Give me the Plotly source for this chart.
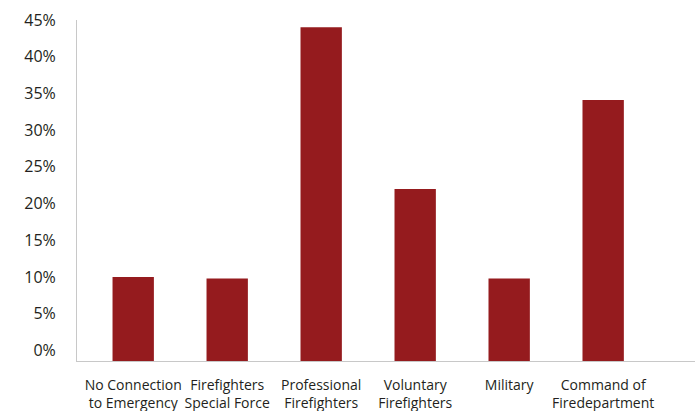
import plotly.graph_objects as go

categories = [
    "No Connection<br>to Emergency",
    "Firefighters<br>Special Force",
    "Professional<br>Firefighters",
    "Voluntary<br>Firefighters",
    "Military",
    "Command of<br>Firedepartment",
]
values = [0.10, 0.098, 0.44, 0.22, 0.098, 0.341]
y_ticks = [0, 0.05, 0.10, 0.15, 0.20, 0.25, 0.30, 0.35, 0.40, 0.45]

Y_MIN = -0.0143
Y_MAX = 0.45

fig = go.Figure(
    go.Bar(
        x=list(range(len(categories))),
        y=[v - Y_MIN for v in values],
        base=Y_MIN,
        marker=dict(color="#951b1e", line=dict(width=0)),
        hoverinfo="skip",
    )
)

fig.update_layout(
    width=695,
    height=411,
    margin=dict(l=77, r=0, t=20, b=50),
    paper_bgcolor="white",
    plot_bgcolor="white",
    bargap=0.56,
    showlegend=False,
    font=dict(family="Open Sans", color="#231f20"),
)

fig.update_xaxes(
    tickmode="array",
    tickvals=list(range(len(categories))),
    ticktext=categories,
    range=[-0.598, 5.977],
    showgrid=False,
    zeroline=False,
    showline=True,
    linecolor="#c8c8c8",
    linewidth=1,
    ticks="",
    tickfont=dict(size=14, family="Open Sans", color="#231f20"),
    ticklabelstandoff=11,
)

fig.update_yaxes(
    range=[Y_MIN, Y_MAX],
    tickmode="array",
    tickvals=y_ticks,
    tickformat=".0%",
    showgrid=False,
    zeroline=False,
    showline=True,
    linecolor="#c8c8c8",
    linewidth=1,
    ticks="",
    tickfont=dict(size=16, family="Open Sans", color="#231f20"),
    ticklabelstandoff=17,
)

fig.write_html("out.html")
